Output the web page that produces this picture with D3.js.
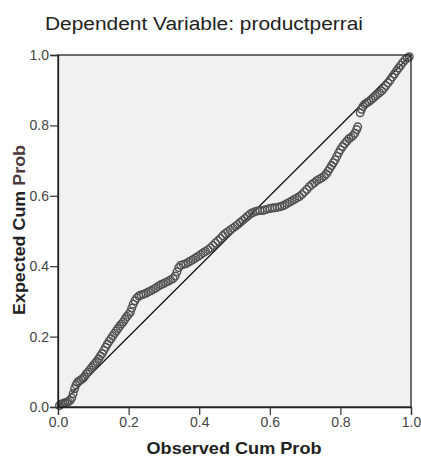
<!DOCTYPE html>
<html><head><meta charset="utf-8">
<script src="https://cdn.jsdelivr.net/npm/d3@7"></script>
<style>
html,body{margin:0;padding:0;background:#fff;}
svg{display:block;}
</style></head>
<body>
<script>
const titleText = "Dependent Variable: productperrai";
const xLabel = "Observed Cum Prob";
const yLabel = "Expected Cum Prob";
const tickValues = [0, 0.2, 0.4, 0.6, 0.8, 1.0];
const tickLabels = ["0.0", "0.2", "0.4", "0.6", "0.8", "1.0"];

const observed = [0.004,0.009,0.014,0.019,0.024,0.029,0.034,0.039,0.043,0.047,0.051,0.055,0.060,0.065,0.070,0.075,0.080,0.085,0.090,0.095,0.100,0.105,0.110,0.115,0.120,0.125,0.130,0.135,0.140,0.145,0.150,0.155,0.160,0.165,0.170,0.175,0.180,0.185,0.190,0.195,0.200,0.205,0.209,0.213,0.218,0.223,0.229,0.235,0.242,0.249,0.256,0.263,0.270,0.277,0.284,0.291,0.298,0.305,0.312,0.319,0.326,0.332,0.337,0.342,0.348,0.355,0.362,0.369,0.376,0.383,0.390,0.397,0.404,0.411,0.418,0.425,0.432,0.439,0.446,0.453,0.460,0.467,0.474,0.481,0.488,0.495,0.502,0.509,0.516,0.523,0.530,0.537,0.544,0.551,0.558,0.565,0.572,0.579,0.586,0.593,0.600,0.607,0.614,0.621,0.628,0.635,0.642,0.649,0.656,0.663,0.670,0.677,0.684,0.691,0.698,0.705,0.712,0.719,0.726,0.733,0.740,0.747,0.754,0.760,0.765,0.770,0.775,0.780,0.785,0.790,0.795,0.800,0.806,0.812,0.818,0.824,0.830,0.836,0.841,0.846,0.849,0.856,0.860,0.864,0.869,0.875,0.881,0.887,0.893,0.899,0.905,0.911,0.917,0.923,0.929,0.935,0.941,0.947,0.953,0.959,0.965,0.971,0.977,0.983,0.989,0.995];
const expected = [0.004,0.008,0.010,0.012,0.013,0.015,0.018,0.026,0.038,0.052,0.063,0.070,0.074,0.077,0.081,0.086,0.094,0.099,0.105,0.112,0.118,0.124,0.130,0.137,0.145,0.152,0.161,0.170,0.179,0.187,0.194,0.202,0.209,0.216,0.223,0.230,0.236,0.242,0.250,0.257,0.263,0.270,0.281,0.292,0.302,0.310,0.315,0.318,0.320,0.323,0.327,0.330,0.334,0.338,0.343,0.347,0.350,0.354,0.357,0.361,0.365,0.372,0.384,0.396,0.403,0.405,0.407,0.411,0.415,0.419,0.424,0.428,0.433,0.438,0.442,0.447,0.452,0.459,0.466,0.472,0.479,0.487,0.493,0.498,0.503,0.508,0.513,0.518,0.524,0.530,0.536,0.542,0.548,0.552,0.555,0.557,0.558,0.558,0.560,0.562,0.564,0.565,0.566,0.567,0.569,0.571,0.574,0.578,0.582,0.586,0.590,0.594,0.598,0.604,0.611,0.618,0.626,0.632,0.637,0.643,0.647,0.651,0.656,0.662,0.670,0.678,0.686,0.694,0.702,0.712,0.722,0.731,0.740,0.748,0.755,0.762,0.766,0.771,0.778,0.788,0.796,0.836,0.846,0.854,0.860,0.864,0.868,0.873,0.878,0.883,0.888,0.893,0.898,0.905,0.913,0.921,0.929,0.938,0.946,0.955,0.963,0.971,0.979,0.986,0.991,0.995];

const W = 421, H = 459;
const m = {left: 58, right: 10, top: 55, bottom: 52};
const svg = d3.select("body").append("svg").attr("width", W).attr("height", H);

const x = d3.scaleLinear().domain([0, 1]).range([m.left, W - m.right]);
const y = d3.scaleLinear().domain([0, 1]).range([H - m.bottom, m.top]);

// plot background
svg.append("rect")
  .attr("x", x(0)).attr("y", y(1))
  .attr("width", x(1) - x(0)).attr("height", y(0) - y(1))
  .attr("fill", "#f1f1f1");

// reference diagonal
svg.append("line")
  .attr("x1", x(0)).attr("y1", y(0)).attr("x2", x(1)).attr("y2", y(1))
  .attr("stroke", "#111").attr("stroke-width", 1.2);

// points
const pts = observed.map((v, i) => ({o: v, e: expected[i]}));
svg.append("g").selectAll("circle").data(pts).join("circle")
  .attr("cx", d => x(d.o)).attr("cy", d => y(d.e)).attr("r", 3.8)
  .attr("fill", "none").attr("stroke", "#505050").attr("stroke-width", 1.4);

// frame
svg.append("rect")
  .attr("x", x(0)).attr("y", y(1))
  .attr("width", x(1) - x(0)).attr("height", y(0) - y(1))
  .attr("fill", "none").attr("stroke", "#222").attr("stroke-width", 1.3);

const fmt = (d) => tickLabels[tickValues.indexOf(d)];

const xAxis = svg.append("g").attr("transform", `translate(0,${y(0)})`)
  .call(d3.axisBottom(x).tickValues(tickValues).tickFormat(fmt).tickSize(8).tickPadding(2));
const yAxis = svg.append("g").attr("transform", `translate(${x(0)},0)`)
  .call(d3.axisLeft(y).tickValues(tickValues).tickFormat(fmt).tickSize(8).tickPadding(1));

[xAxis, yAxis].forEach(a => {
  a.select(".domain").attr("stroke", "#222").attr("stroke-width", 1.3);
  a.selectAll(".tick line").attr("stroke", "#333").attr("stroke-width", 1.2);
  a.selectAll(".tick text").attr("fill", "#444")
    .style("font-family", "Arial, 'Liberation Sans', sans-serif").style("font-size", "14px");
});

// title
svg.append("text")
  .attr("x", 45).attr("y", 30)
  .attr("textLength", 318).attr("lengthAdjust", "spacingAndGlyphs")
  .style("font-family", "Arial, 'Liberation Sans', sans-serif").style("font-size", "18px")
  .attr("fill", "#222").text(titleText);

// x label
svg.append("text")
  .attr("x", 234).attr("y", 454).attr("text-anchor", "middle")
  .attr("textLength", 175).attr("lengthAdjust", "spacingAndGlyphs")
  .style("font-family", "Arial, 'Liberation Sans', sans-serif").style("font-size", "17px").style("font-weight", "bold")
  .attr("fill", "#222").text(xLabel);

// y label
const yl = svg.append("text")
  .attr("transform", "translate(25,230) rotate(-90)").attr("text-anchor", "middle")
  .attr("textLength", 170).attr("lengthAdjust", "spacingAndGlyphs")
  .style("font-family", "Arial, 'Liberation Sans', sans-serif").style("font-size", "17px").style("font-weight", "bold")
  .attr("fill", "#222");
const parts = yLabel.split(" ");
yl.append("tspan").text(parts.slice(0, 2).join(" ") + " ");
yl.append("tspan").attr("fill", "#4a3a40").text(parts[2]);
</script>
</body></html>
